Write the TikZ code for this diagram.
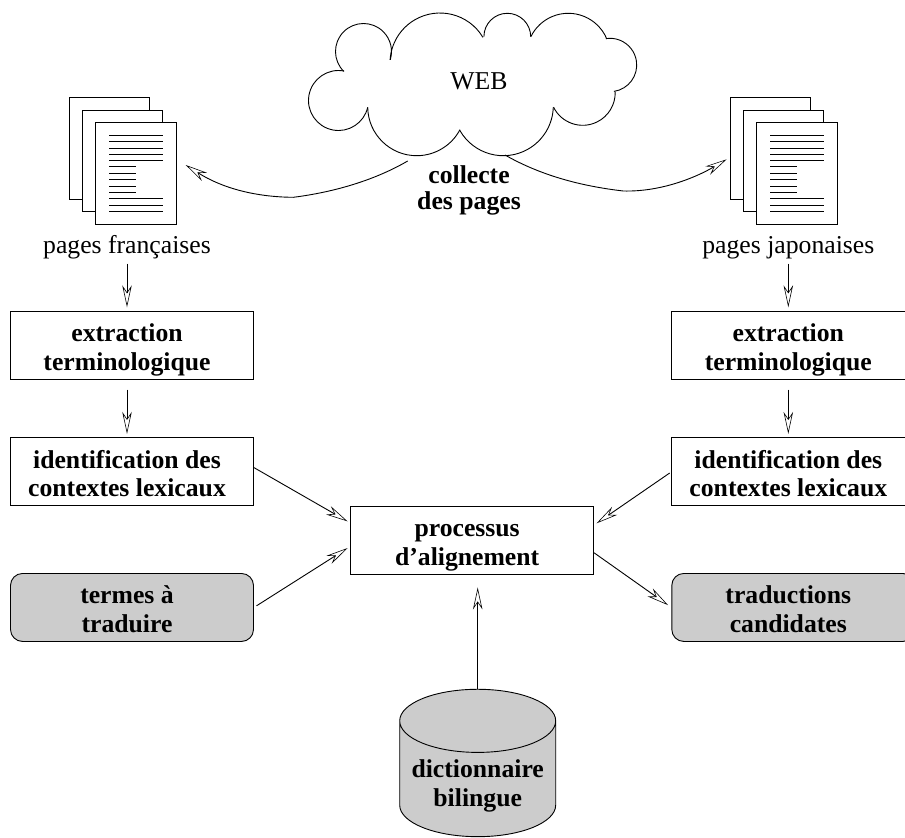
\documentclass[tikz,border=0pt]{standalone}
\usepackage{fontspec}
\setmainfont{Liberation Serif}[Ligatures=NoCommon]
\usepackage{tikz}
\usetikzlibrary{arrows.meta,shapes.geometric}

\newcommand{\abaisse}[2]{\raisebox{-#1}[0pt][0pt]{\begin{tabular}{@{}c@{}}#2\end{tabular}}}
\newcommand{\decale}[1]{\abaisse{11.2pt}{#1}\hspace{10pt}}

\begin{document}
\begin{tikzpicture}[x=1pt,y=1pt,>={Stealth[open,length=22pt,width=9.5pt,inset=7pt,line width=.6pt]},line width=.9pt,
  node distance=126.6pt,
  fleche/.style={->,shorten >=3pt},
  texte/.style={font=\fontsize{25.7}{28.8}\selectfont,align=center,inner sep=1pt},
  gras/.style={texte,font=\fontsize{25.7}{28.8}\selectfont\bfseries},
  boite/.style={gras,draw,minimum width=243pt,minimum height=68pt},
  grise/.style={boite,fill=black!20,rounded corners=12pt},
  feuille/.style={draw,fill=white,minimum width=80.5pt,minimum height=101.7pt}]

  \useasboundingbox (0,0) rectangle (905,-838);

  \foreach \cx/\cy/\ray/\debut/\fin in {363.5/51.5/28/225.4/-17.2,338.5/100.5/30/79.3/346.9,
      416.7/106.7/49/180.7/332.1,503.3/105.7/50/209.7/358.2,582.7/92.8/32.5/206.3/362,
      610/65/26.7/-81.5/98.8,568.3/55/41.7/22.6/154,507.3/36.7/23.4/0/180,440/63/50/30.9/176.5}
    \draw (\cx,-\cy) ++(\debut:\ray) arc[start angle=\debut,end angle=\fin,radius=\ray];
  \node[texte] (web) at (479,-81.5) {WEB};
  \node[gras] (collecte) at (469,-190) {collecte\\[-2.8pt]des pages};

  \foreach \x/\nom in {0/Fr,661/Ja} {
    \node[feuille] (fond\nom) at (109.3+\x,-148.2) {};
    \node[feuille] (milieu\nom) at (122.6+\x,-160.8) {};
    \node[feuille] (page\nom) at (135.85+\x,-173.5) {};
    \foreach \y in {135.7,141.7,148,154.3,160.7,198.7,205,211.3}
      \draw (109+\x,-\y) -- ++(54,0);
    \foreach \y in {166.7,173,179.7,186,192.3}
      \draw (109+\x,-\y) -- ++(27,0);
  }

  \node[texte,anchor=base] (pagesFr) at (127,-253) {pages françaises};
  \node[texte,anchor=base] (pagesJa) at (788.3,-253) {pages japonaises};

  \node[boite] (extrFr) at (132,-345.25) {\decale{extraction\\terminologique}};
  \node[boite] (idFr) [below of=extrFr] {\decale{identification des\\contextes lexicaux}};
  \node[grise] (termes) [below of=idFr,node distance=135.6pt] {\decale{termes à\\traduire}};

  \node[boite] (extrJa) [right of=extrFr,node distance=661.3pt] {\decale{extraction\\terminologique}};
  \node[boite] (idJa) [below of=extrJa] {\decale{identification des\\contextes lexicaux}};
  \node[grise] (trad) [below of=idJa,node distance=135.6pt] {\decale{traductions\\candidates}};

  \node[boite] (process) at (472.15,-540) {\decale{processus\\d’alignement}};

  \node[gras,draw,fill=black!20,cylinder,shape border rotate=90,aspect=.47,
    minimum width=156pt,minimum height=147.4pt] (dico) at (477.7,-781.5) {\abaisse{10.9pt}{dictionnaire\\bilingue}};

  \coordinate (sourceFr) at (407.7,-161);
  \coordinate (sourceJa) at (505,-155);
  \coordinate (cibleFr) at (185.7,-165);
  \coordinate (cibleJa) at (726.7,-159.3);

  \draw[->] (sourceFr) .. controls (375,-180) and (335,-192) .. (293.3,-197.3)
    .. controls (255,-197) and (222,-188) .. (cibleFr);
  \draw[->] (sourceJa) .. controls (540,-175) and (580,-186) .. (623.3,-191)
    .. controls (660,-192) and (695,-178) .. (cibleJa);

  \path[fleche]
    (pagesFr) edge [shorten <=3.5pt,shorten >=3.5pt] (pagesFr |- extrFr.north)
    (extrFr.south -| pagesFr) edge [shorten <=10pt,shorten >=3.5pt] (pagesFr |- idFr.north)
    (pagesJa) edge [shorten <=3.5pt,shorten >=3.5pt] (pagesJa |- extrJa.north)
    (extrJa.south -| pagesJa) edge [shorten <=10pt,shorten >=3.5pt] (pagesJa |- idJa.north)
    (idFr.2.43) edge (process.172.2)
    (termes.east) edge [shorten <=3pt] (process.183.15)
    (idJa.west) edge [shorten <=2pt] (process.7.8)
    (process.-6.88) edge [shorten >=4pt] (trad.west)
    (dico.north) edge [shorten >=13pt] (dico.north |- process.south);
\end{tikzpicture}
\end{document}
